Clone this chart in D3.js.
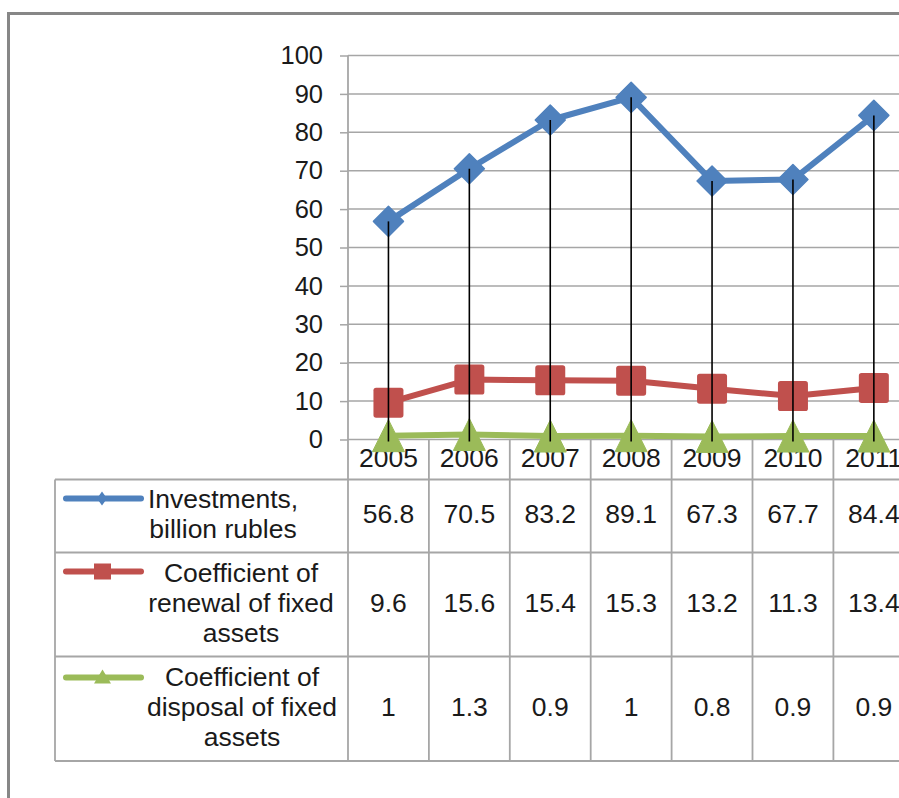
<!DOCTYPE html>
<html>
<head>
<meta charset="utf-8">
<script src="https://cdn.jsdelivr.net/npm/d3@7"></script>
<style>
  html, body { margin: 0; padding: 0; background: #fff; }
  svg { display: block; }
  text { font-family: "Liberation Sans", Arial, sans-serif; fill: #1a1a1a; }
</style>
</head>
<body>
<svg id="chart" width="899" height="798"></svg>
<script>
// Years on the category axis
const years = ["2005", "2006", "2007", "2008", "2009", "2010", "2011"];
// Series values
const investments = [56.8, 70.5, 83.2, 89.1, 67.3, 67.7, 84.4];
const renewal = [9.6, 15.6, 15.4, 15.3, 13.2, 11.3, 13.4];
const disposal = [1, 1.3, 0.9, 1, 0.8, 0.9, 0.9];
// Value axis ticks
const yTicks = [0, 10, 20, 30, 40, 50, 60, 70, 80, 90, 100];
// Series names (wrapped as in the data table)
const seriesLabels = [
  ["Investments,", "billion rubles"],
  ["Coefficient of", "renewal of fixed", "assets"],
  ["Coefficient of", "disposal of fixed", "assets"]
];
// Table cell text
const tableValues = [
  ["56.8", "70.5", "83.2", "89.1", "67.3", "67.7", "84.4"],
  ["9.6", "15.6", "15.4", "15.3", "13.2", "11.3", "13.4"],
  ["1", "1.3", "0.9", "1", "0.8", "0.9", "0.9"]
];

const series = [
  { values: investments, color: "#4F81BD", marker: "diamond" },
  { values: renewal, color: "#C0504D", marker: "square" },
  { values: disposal, color: "#9BBB59", marker: "triangle" }
];

const svg = d3.select("#chart");
const gridColor = "#a6a6a6";

// Layout
const plotLeft = 348, plotTop = 55.5, plotBottom = 439.5;
const band = 80.9;
const tableLeft = 55;
const rowEdges = [plotBottom, 479.5, 552.5, 656.5, 761];

const x = d3.scaleBand().domain(years).range([plotLeft, plotLeft + band * years.length]).padding(0);
const y = d3.scaleLinear().domain([0, 100]).range([plotBottom, plotTop]);
const cx = d => x(d) + x.bandwidth() / 2;

// Outer chart frame
svg.append("rect")
  .attr("x", 8.5).attr("y", 13.5)
  .attr("width", 1000).attr("height", 1000)
  .attr("fill", "none").attr("stroke", "#878787").attr("stroke-width", 3);

// Horizontal gridlines
svg.append("g").selectAll("line").data(yTicks).join("line")
  .attr("x1", plotLeft).attr("x2", 1000)
  .attr("y1", d => y(d)).attr("y2", d => y(d))
  .attr("stroke", gridColor).attr("stroke-width", 1.5);

// Value axis
const yAxis = svg.append("g")
  .attr("transform", `translate(${plotLeft},0)`)
  .call(d3.axisLeft(y).tickValues(yTicks).tickSize(8).tickPadding(17).tickFormat(d3.format("d")));
yAxis.select(".domain").remove();
yAxis.selectAll(".tick line").attr("stroke", gridColor).attr("stroke-width", 1.5);
yAxis.selectAll(".tick text")
  .attr("font-size", "25.5px")
  .attr("font-family", "Liberation Sans, Arial, sans-serif")
  .attr("fill", "#1a1a1a");

// Data table grid
const tg = svg.append("g").attr("stroke", gridColor).attr("stroke-width", 1.8).attr("fill", "none");
// vertical line at the plot's left edge, running through the table
tg.append("line").attr("x1", plotLeft).attr("x2", plotLeft).attr("y1", plotTop).attr("y2", rowEdges[4]);
// category separators
tg.selectAll("line.sep").data(years.slice(1)).join("line").attr("class", "sep")
  .attr("x1", d => x(d)).attr("x2", d => x(d))
  .attr("y1", plotBottom).attr("y2", rowEdges[4]);
// table row lines
tg.selectAll("line.row").data(rowEdges.slice(1)).join("line").attr("class", "row")
  .attr("x1", tableLeft).attr("x2", 1000)
  .attr("y1", d => d).attr("y2", d => d);
// left edge of series label column
tg.append("line").attr("x1", tableLeft).attr("x2", tableLeft).attr("y1", rowEdges[1]).attr("y2", rowEdges[4]);

// Year labels
svg.append("g").selectAll("text").data(years).join("text")
  .attr("x", d => cx(d)).attr("y", (rowEdges[0] + rowEdges[1]) / 2 - 2)
  .attr("dy", "0.35em").attr("text-anchor", "middle").attr("font-size", "26.5px")
  .text(d => d);

// Table values
tableValues.forEach((row, i) => {
  const mid = (rowEdges[i + 1] + rowEdges[i + 2]) / 2;
  svg.append("g").selectAll("text").data(row).join("text")
    .attr("x", (d, j) => cx(years[j])).attr("y", mid - 2)
    .attr("dy", "0.35em").attr("text-anchor", "middle").attr("font-size", "26.5px")
    .text(d => d);
});

// Marker shapes
function drawMarker(g, type, px, py, s, color) {
  if (type === "diamond") {
    g.append("path")
      .attr("d", `M${px},${py - s}L${px + s},${py}L${px},${py + s}L${px - s},${py}Z`)
      .attr("fill", color).attr("stroke", color).attr("stroke-width", 1.5).attr("stroke-linejoin", "round");
  } else if (type === "square") {
    g.append("rect")
      .attr("x", px - s).attr("y", py - s).attr("width", 2 * s).attr("height", 2 * s)
      .attr("rx", s * 0.18).attr("fill", color);
  } else {
    g.append("path")
      .attr("d", `M${px},${py - s}L${px + s},${py + s}L${px - s},${py + s}Z`)
      .attr("fill", color).attr("stroke", color).attr("stroke-width", 1).attr("stroke-linejoin", "round");
  }
}

// Series legend keys and names in the table
const keyY = [498.5, 571.5, 677.5];
const labelCx = [223, 241, 242];
series.forEach((s, i) => {
  const g = svg.append("g");
  g.append("line")
    .attr("x1", 66).attr("x2", 141).attr("y1", keyY[i]).attr("y2", keyY[i])
    .attr("stroke", s.color).attr("stroke-width", 6).attr("stroke-linecap", "round");
  if (s.marker === "diamond") {
    g.append("path")
      .attr("d", `M102,${keyY[i] - 7}L107,${keyY[i]}L102,${keyY[i] + 7}L97,${keyY[i]}Z`)
      .attr("fill", s.color);
  } else if (s.marker === "square") {
    g.append("rect").attr("x", 94).attr("y", keyY[i] - 8).attr("width", 17).attr("height", 16).attr("fill", s.color);
  } else {
    g.append("path")
      .attr("d", `M102.5,${keyY[i] - 8}L111,${keyY[i] + 6}L94,${keyY[i] + 6}Z`)
      .attr("fill", s.color);
  }
  const lines = seriesLabels[i];
  const mid = (rowEdges[i + 1] + rowEdges[i + 2]) / 2 - 2;
  const lh = 30;
  const t = g.append("text").attr("text-anchor", "middle").attr("font-size", "26.5px");
  lines.forEach((ln, k) => {
    t.append("tspan")
      .attr("x", labelCx[i])
      .attr("y", mid + (k - (lines.length - 1) / 2) * lh)
      .attr("dy", "0.35em")
      .text(ln);
  });
});

// Series lines and markers
const lineGen = d3.line().x((d, i) => cx(years[i])).y(d => y(d));
series.forEach(s => {
  svg.append("path").datum(s.values)
    .attr("d", lineGen)
    .attr("fill", "none").attr("stroke", s.color).attr("stroke-width", 6)
    .attr("stroke-linejoin", "round").attr("stroke-linecap", "round");
});
series.forEach(s => {
  const g = svg.append("g");
  const size = s.marker === "diamond" ? 15 : (s.marker === "square" ? 15 : 16);
  s.values.forEach((v, i) => drawMarker(g, s.marker, cx(years[i]), y(v), size, s.color));
});

// Drop lines from the top series to the category axis
svg.append("g").selectAll("line").data(investments).join("line")
  .attr("x1", (d, i) => cx(years[i])).attr("x2", (d, i) => cx(years[i]))
  .attr("y1", d => y(d)).attr("y2", y(0) + 2)
  .attr("stroke", "#000").attr("stroke-width", 1.6);
</script>
</body>
</html>
